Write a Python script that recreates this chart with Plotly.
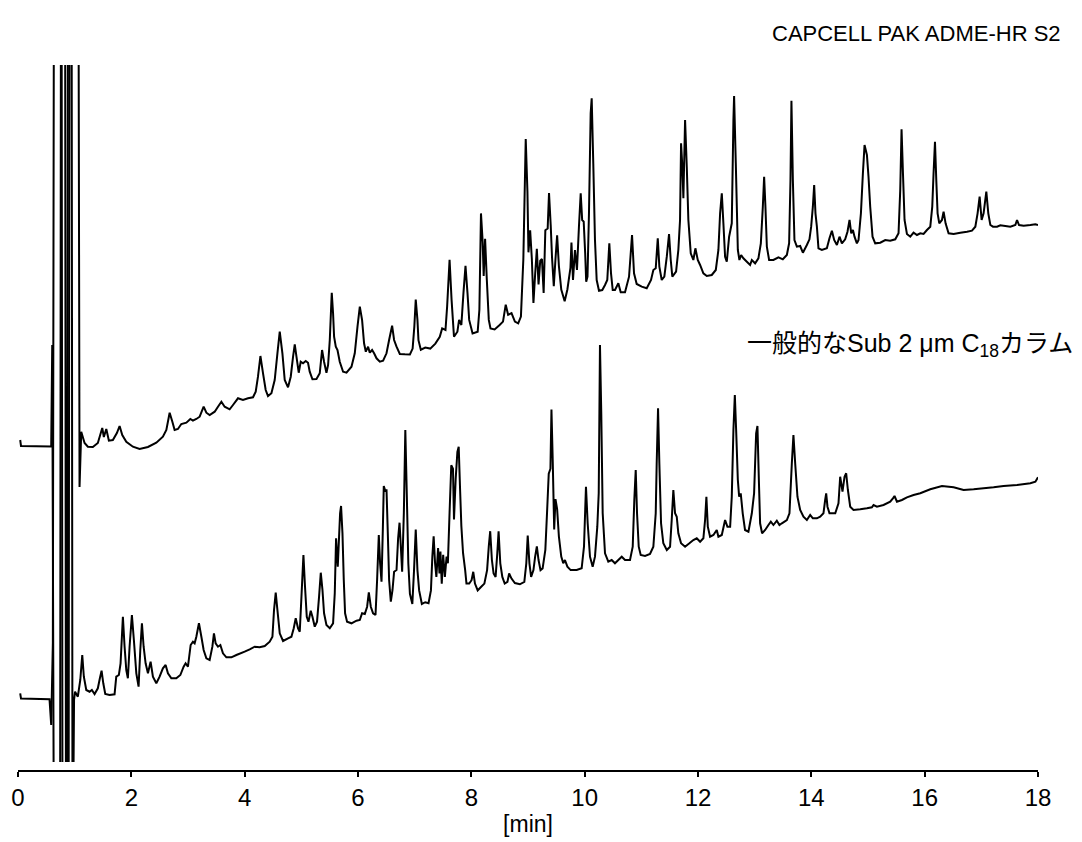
import plotly.graph_objects as go

# ---- data (time in min, signal in arbitrary units) ----
upper_time = [0.039,0.053,0.586,0.604,0.636,0.742,0.759,0.830,0.848,0.865,
0.883,1.065,1.086,1.116,1.175,1.233,1.321,1.409,1.487,1.515,
1.558,1.604,1.674,1.745,1.793,1.840,1.911,2.028,2.146,2.293,
2.441,2.557,2.618,2.676,2.724,2.764,2.822,2.882,2.971,3.041,
3.087,3.147,3.206,3.276,3.324,3.382,3.471,3.529,3.589,3.647,
3.735,3.794,3.882,
3.970,4.059,4.147,4.195,4.235,4.278,4.324,4.371,4.412,4.472,
4.530,4.578,4.619,4.666,4.707,4.765,4.813,4.854,4.884,4.914,
4.954,4.989,5.030,5.078,5.118,5.148,5.196,5.267,5.325,5.366,
5.401,5.443,5.472,5.502,5.537,5.560,5.578,5.608,5.638,5.678,
5.737,5.797,5.885,5.943,5.991,6.032,6.072,6.107,6.138,6.178,
6.208,6.249,6.284,6.327,6.385,6.443,6.503,6.549,6.602,6.637,
6.680,6.738,6.826,
6.916,6.964,6.994,7.019,7.049,7.067,7.109,7.187,7.275,7.365,
7.443,7.485,7.544,7.573,7.616,7.651,7.694,7.754,7.784,7.824,
7.861,7.897,7.932,7.962,8.022,8.112,8.142,8.170,8.200,8.218,
8.243,8.273,8.308,8.338,8.411,8.499,8.559,8.607,8.649,8.709,
8.769,8.827,8.875,8.918,8.960,8.990,9.008,9.038,9.068,9.096,
9.126,9.156,9.186,9.216,9.246,9.276,9.306,9.347,9.371,9.401,
9.424,9.455,9.485,9.514,9.545,9.587,9.647,9.695,
9.749,9.767,9.794,9.829,9.864,9.899,9.930,9.956,9.983,10.009,
10.027,10.050,10.076,10.106,10.124,10.152,10.182,10.212,10.253,10.311,
10.359,10.399,10.435,10.465,10.495,10.535,10.594,10.636,10.712,10.783,
10.836,10.871,10.918,11.007,11.095,11.171,11.212,11.254,11.290,11.318,
11.360,11.406,11.449,11.489,11.519,11.547,11.613,11.653,11.683,11.701,
11.724,11.742,11.772,11.802,11.830,11.872,11.918,11.954,11.996,12.037,
12.095,12.155,12.243,12.314,12.360,12.390,12.420,12.448,12.478,12.508,
12.549,12.596,12.625,12.637,12.667,12.703,12.731,12.761,12.801,12.862,
12.920,
12.950,13.008,13.066,13.109,13.144,13.167,13.190,13.215,13.255,13.331,
13.420,13.497,13.568,13.608,13.632,13.649,13.674,13.702,13.745,13.803,
13.851,13.921,13.967,13.997,14.027,14.050,14.073,14.098,14.126,14.186,
14.274,14.320,14.363,14.403,14.451,14.497,14.539,14.597,14.638,14.674,
14.704,14.734,14.762,14.804,14.833,14.875,14.910,14.939,14.981,15.009,
15.039,15.080,15.127,15.216,15.304,15.392,15.481,15.539,15.569,15.592,
15.617,15.645,15.687,15.746,15.804,15.864,15.922,15.981,16.040,16.099,
16.134,16.157,16.182,16.205,16.228,16.258,16.305,16.334,16.369,16.422,
16.511,16.629,16.747,16.835,16.894,16.934,16.970,17.005,17.040,17.088,
17.123,17.159,17.206,17.277,17.335,17.423,17.512,17.600,17.630,17.665,
17.747,17.865,17.954,18.0]

upper_signal = [331,325,324.5,426,-129,-129,871,871,-129,-129,
871,871,284,339.3,328,324.3,324,328,343,334,
342,330.3,331,338,345,336,329.3,324.3,322,324,
328.3,334.3,341,358.3,349.3,341,342,347,348.3,352,
350.3,352,354.3,364.3,358.3,356,359.3,364.3,369.3,364.3,
361.7,366,372.7,
371,372.7,373.7,379.3,394.3,415,397.7,381,375,377.7,
391,417.7,439.3,417.7,391,383.7,394.3,414.3,426.7,414.3,
398.3,409.3,407.7,410,408.3,399.3,391.7,392,397.7,421,
409.3,398.3,406,431,478.3,457.7,434.3,424.3,421,409.3,
399.3,398.3,404.3,417.7,444.3,464.3,451,427.7,419.3,424.3,
418.3,421,417.7,412.7,409.3,410.3,417.7,431,445.3,431,
424.3,417,416.7,
416.6,422.4,444.3,471.4,451.1,430.8,421.3,423.4,422.4,427.4,
434.2,442.6,441,464.6,511.3,471.4,434.2,439.3,451.1,446,
478.1,505.2,478.1,451.1,437.6,439.3,461.2,557.6,528.9,495,
532.2,491.7,451.1,442.6,441.6,446,449.4,466.3,456.2,457.9,
449.4,447.7,454.5,512,632,579.6,518.7,540.7,512,468,
496.7,522.1,486.6,510.3,512,478.1,540.7,542.4,577.9,545.8,
513.6,484.9,512,535.6,505.2,481.5,469.7,481.5,
503,528.5,491,521,501,544.3,577.7,551,549.3,517.7,
489.3,494.3,557.7,657.7,672.7,607.7,531,491,480.3,481,
486,491,527.7,497.7,481,481,487.7,478.7,478.7,494.3,
536,497.7,487,484.3,482.7,491,501,502.7,532.7,504.3,
491,494.3,514.3,537,511,494.3,499.3,521,551,627.7,
604.3,572.7,651,604.3,551,517.7,511,522.7,511,506,
497.7,495,496,501,521,557.7,577.7,547.7,514.3,509.3,
534.3,547.7,651,675,607.7,521,511,516,512.7,509.3,
506,
511,507.7,512.7,527.7,564.3,594.3,564.3,524.3,511,511,
513.7,511.7,516,527.7,591,670.3,591,531,524.3,525,
518.3,526,531.7,544.3,564.3,586,557.7,544.3,522.7,521,
522.7,532.7,540.3,531,526,534.3,527.7,531.7,539.3,551,
537.7,541,534.3,527.7,531,557.7,597.7,626,616,594.3,
564.3,534.3,527.7,528.3,531,530.3,531.7,537.7,581,641.7,
597.7,551,537,534.3,538.3,536,537.7,537,541,544.3,
564.3,597.7,629.3,591,557.7,547.7,551,559.3,547.7,537.7,
537,538.3,539.3,540.3,544.3,557.7,574.3,551,557.7,579.3,
557.7,546,544.3,544.3,545.7,545,544.3,546,551,546,
545.3,546,546.7,546]

lower_time = [0.039,0.053,0.556,0.586,0.615,0.636,0.768,0.786,0.892,0.910,
0.945,0.963,0.989,1.007,1.056,1.099,1.134,1.162,1.205,1.263,
1.303,1.351,1.409,1.445,1.475,1.505,1.540,1.616,1.704,1.734,
1.780,1.810,1.851,1.881,1.911,1.939,1.969,2.010,2.045,2.088,
2.128,2.158,2.187,2.217,2.252,2.293,2.340,2.381,2.441,2.499,
2.557,2.605,2.646,2.706,2.794,2.865,2.923,2.958,2.999,3.047,
3.087,3.117,3.147,3.193,3.236,3.276,3.324,3.382,3.430,3.458,
3.488,3.529,3.571,3.617,3.677,3.766,3.854,
4.000,4.089,4.177,4.265,4.354,4.442,4.490,4.518,4.548,4.578,
4.619,4.677,4.765,4.825,4.866,4.901,4.942,4.972,5.002,5.037,
5.065,5.096,5.126,5.166,5.196,5.237,5.277,5.313,5.343,5.373,
5.401,5.443,5.502,5.560,5.590,5.613,5.643,5.666,5.684,5.701,
5.726,5.749,5.772,5.807,5.885,5.973,6.032,6.072,6.120,6.161,
6.191,6.226,6.266,6.309,6.337,6.367,6.390,6.415,6.438,6.455,
6.486,6.503,6.526,6.549,6.579,6.609,6.637,6.680,6.708,6.733,
6.756,6.779,6.809,6.835,6.862,6.888,
6.916,6.959,6.989,7.019,7.049,7.079,7.127,7.187,7.245,7.287,
7.312,7.335,7.360,7.383,7.413,7.438,7.455,7.478,7.503,7.533,
7.563,7.586,7.616,7.646,7.676,7.694,7.724,7.754,7.777,7.801,
7.824,7.854,7.891,7.914,7.962,8.004,8.034,8.064,8.112,8.170,
8.230,8.278,8.308,8.333,8.363,8.393,8.428,8.458,8.481,8.511,
8.547,8.589,8.637,8.667,8.709,8.769,8.857,8.935,8.970,8.995,
9.025,9.055,9.096,9.126,9.156,9.186,9.221,9.258,9.306,9.336,
9.366,9.396,9.414,9.437,9.462,9.485,9.514,9.545,9.587,9.622,
9.652,9.695,9.753,
9.859,9.947,9.988,10.023,10.053,10.094,10.141,10.182,10.223,10.248,
10.270,10.293,10.318,10.359,10.417,10.477,10.535,10.594,10.654,10.712,
10.800,10.848,10.876,10.901,10.924,10.954,10.989,11.065,11.153,11.212,
11.254,11.271,11.295,11.318,11.348,11.388,11.449,11.507,11.536,11.565,
11.595,11.625,11.653,11.701,11.772,11.848,11.918,11.978,12.037,12.095,
12.125,12.148,12.173,12.213,12.272,12.331,12.360,12.420,12.478,12.519,
12.567,12.596,12.625,12.650,12.673,12.703,12.726,12.754,12.789,12.830,
12.890,
12.950,12.990,13.026,13.049,13.074,13.096,13.131,13.185,13.243,13.285,
13.331,13.391,13.437,13.480,13.568,13.614,13.656,13.684,13.715,13.755,
13.803,13.861,13.921,13.980,14.027,14.098,14.156,14.214,14.244,14.262,
14.285,14.320,14.422,14.479,14.509,14.550,14.586,14.615,14.645,14.686,
14.744,14.863,14.981,15.069,15.098,15.158,15.274,15.392,15.440,15.468,
15.511,15.599,15.687,15.804,15.922,16.099,16.305,16.511,16.687,16.864,
17.040,17.217,17.393,17.630,17.865,17.954,18.0]

lower_signal = [77.7,72.5,71.7,46,128,871,871,-129,-129,871,
871,-129,71,79.3,74.3,91,116,94.3,81,79.3,
81,77,82.7,92.7,100.3,87.7,77,76,76.7,94.3,
96,107.7,154.3,124.3,101,92.7,124.3,156,131,97.7,
84.3,121,147.7,124.3,107.7,97.7,109.3,94.3,87.7,94.3,
102.7,106,97.7,92.7,92.7,96,104.3,107.7,104.3,126,
129.3,127.7,134.3,147.7,134.3,121,112.7,111,124.3,137.7,
127.7,124.3,126,117.7,113.7,113.7,116,
119.3,121.7,124.3,123.7,125,129.3,134.3,161,178.3,161,
137.7,130,132.7,134.3,142.7,152.7,142.7,139.3,174.3,216,
184.3,154.3,149.3,160.3,154.3,144.3,149.3,174.3,198.3,181,
157.7,146,142.7,147.7,177.7,232.7,204.3,234.3,257.7,265,
237.7,191,157.7,149.3,147.7,150.3,151,157.7,157,164.3,
178.7,164.3,157.7,156,191,236,207.7,189.3,241,285,
279.3,281.7,237.7,191,169.3,181,199.3,201,232.7,248.3,
224.3,199.3,257.7,341,274.3,207.7,
177.2,167.1,200.9,241.5,200.9,180.6,167.1,168.8,167.8,180.6,
214.4,234.7,207.7,194.1,222.9,197.5,219.5,187.4,216.1,194.1,
214.4,207.7,258.4,305.7,302.3,251.6,292.2,319.2,324.3,282,
244.9,217.8,200.9,187.4,187.4,190.8,199.2,187.4,180.6,184,
187.4,200.9,224.6,239.8,211,197.5,194.1,217.8,239.8,207.7,
194.1,187.4,189.1,197.5,192.4,188,186.7,189.1,207.7,235.4,
207.7,194.1,200.9,214.4,224.6,211,200.9,202.6,221.2,258.4,
297.3,302.3,361.5,309.1,241.5,271.9,261.8,234.7,214.4,207.7,
211,204.3,200.9,
201,202.7,224.3,284.3,247.7,214.3,204.3,214.3,244.3,277.7,
426,357.7,257.7,217.7,209.3,211,207.7,211,214.3,211,
211,224.3,271,301,257.7,224.3,216,215,217,224.3,
257.7,307.7,362.7,307.7,247.7,227.7,221,224.3,251,281,
257.7,254.3,237.7,227.7,224.3,227.7,231,232.7,229.3,232.7,
251,274.3,244.3,234.3,236,241,234.3,236,251,244.3,
244.3,274.3,341,376,341,291,274.3,277.7,257.7,241,
239.3,
257.7,277.7,337.7,345,291,247.7,237.7,241,246,249.3,
246,250.3,246,247.7,251,257.7,307.7,336,307.7,274.3,
261,254.3,251,256,252.7,252.7,254.3,257.7,271,277.7,
264.3,257.7,257.7,267.7,294.3,279.3,294.3,297.7,281,264.3,
261,261.7,262.7,263.7,266,264.3,266,269.3,272.7,275,
269.3,271,273.7,276,277.7,281.7,285,283.7,281,281.7,
282.7,283.7,285,286,287.7,289.3,293.7]

tick_values = [0, 2, 4, 6, 8, 10, 12, 14, 16, 18]
tick_labels = ["0", "2", "4", "6", "8", "10", "12", "14", "16", "18"]
upper_label = "CAPCELL PAK ADME-HR S2"
lower_label = "一般的なSub 2 μm C<sub>18</sub>カラム"
x_title = "[min]"

FONT = "Liberation Sans, Arial, Noto Sans CJK JP, sans-serif"

fig = go.Figure()
for t, s in [(upper_time, upper_signal), (lower_time, lower_signal)]:
    fig.add_trace(go.Scatter(
        x=t, y=s, mode="lines",
        line=dict(color="black", width=2, simplify=False),
        hoverinfo="skip", showlegend=False))

fig.update_layout(
    width=1074, height=834,
    paper_bgcolor="white", plot_bgcolor="white",
    margin=dict(l=10, r=44, t=57, b=71, autoexpand=False),
    font=dict(family=FONT, color="black", size=22),
    xaxis=dict(
        range=[0, 18], anchor="free", position=0,
        showline=True, linecolor="black", linewidth=2,
        ticks="outside", ticklen=5, tickwidth=2, tickcolor="black",
        tickmode="array", tickvals=tick_values, ticktext=tick_labels,
        tickfont=dict(family=FONT, size=24, color="black"),
        showgrid=False, zeroline=False,
        title=dict(text=x_title, font=dict(family=FONT, size=23, color="black"), standoff=5),
    ),
    yaxis=dict(range=[9, 706], domain=[9 / 706, 1], visible=False,
               showgrid=False, zeroline=False),
    annotations=[
        dict(text=upper_label, xref="paper", yref="paper",
             x=1.0245, y=1.0453, xanchor="right", yanchor="middle",
             showarrow=False, font=dict(family=FONT, size=22, color="black")),
        dict(text=lower_label, xref="paper", yref="paper",
             x=1.0363, y=0.6034, xanchor="right", yanchor="middle",
             showarrow=False, font=dict(family=FONT, size=25, color="black")),
    ],
)

fig.write_html("out.html")
